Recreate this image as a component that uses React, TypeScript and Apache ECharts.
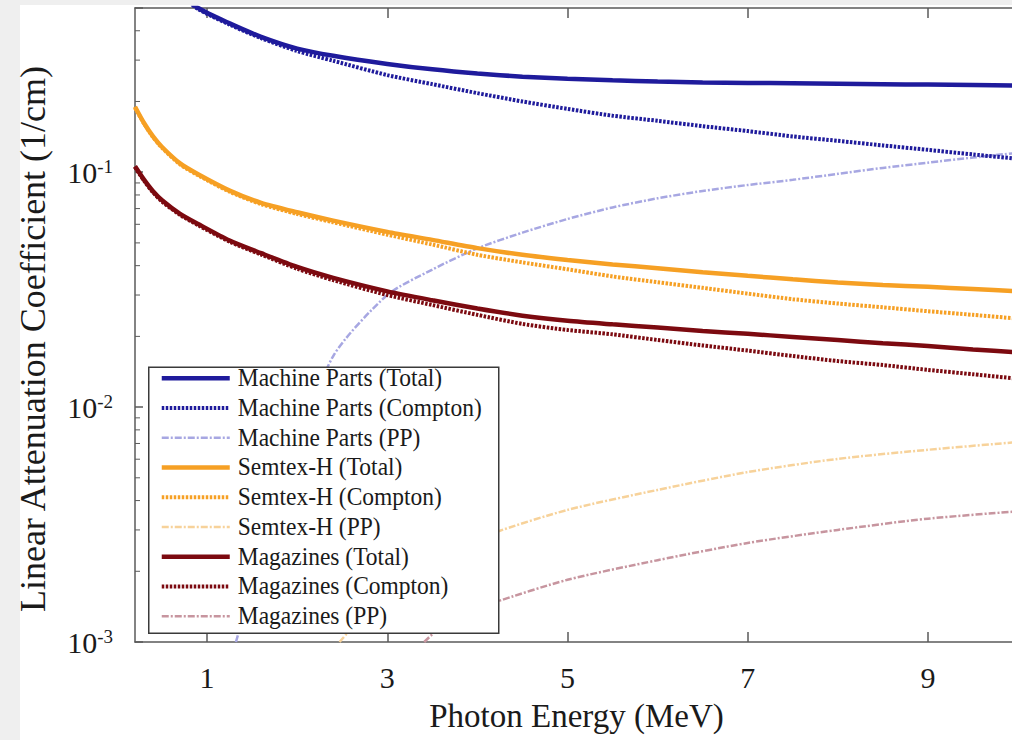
import React, { useEffect, useRef } from 'react';
import * as echarts from 'echarts';

// Photon energy grids (MeV)
const machineEnergy = [0.7, 0.9, 1.25, 1.6, 2, 2.4, 3, 3.5, 4, 4.5, 5, 5.5, 6, 6.5, 7, 7.5, 8, 8.5, 9, 9.5, 10];
const energy = [0.2, 0.3, 0.4, 0.5, 0.7, 0.9, 1.25, 1.6, 2, 2.4, 3, 3.5, 4, 4.5, 5, 5.5, 6, 6.5, 7, 7.5, 8, 8.5, 9, 9.5, 10];
const machinePPEnergy = [1.32, 1.6, 2, 2.4, 3, 3.5, 4, 4.5, 5, 5.5, 6, 6.5, 7, 7.5, 8, 8.5, 9, 9.5, 10];
const semtexPPEnergy = [2.47, 3, 3.5, 4.18, 5, 6, 7, 8, 9, 10];
const magazinesPPEnergy = [3.41, 3.7, 4.18, 5, 6, 7, 8, 9, 10];

// Linear attenuation coefficients (1/cm)
const machineTotal = [0.58, 0.5, 0.43, 0.377, 0.336, 0.313, 0.289, 0.274, 0.263, 0.255, 0.25, 0.246, 0.243, 0.241, 0.24, 0.239, 0.238, 0.237, 0.236, 0.235, 0.234];
const machineCompton = [0.57, 0.495, 0.425, 0.372, 0.328, 0.298, 0.259, 0.237, 0.217, 0.2, 0.186, 0.174, 0.1655, 0.157, 0.1496, 0.142, 0.136, 0.13, 0.1245, 0.119, 0.114];
const machinePP = [0.001, 0.0023, 0.0066, 0.0165, 0.03, 0.0385, 0.0474, 0.0553, 0.0632, 0.0708, 0.0774, 0.0832, 0.0882, 0.0928, 0.0984, 0.1043, 0.1098, 0.1154, 0.121];
const semtexTotal = [0.19, 0.162, 0.142, 0.128, 0.109, 0.098, 0.0835, 0.074, 0.0675, 0.0622, 0.0557, 0.0515, 0.0475, 0.0445, 0.0423, 0.0405, 0.039, 0.0375, 0.0362, 0.035, 0.0339, 0.0331, 0.0325, 0.0318, 0.0311];
const semtexCompton = [0.188, 0.161, 0.141, 0.127, 0.108, 0.097, 0.0826, 0.0731, 0.0664, 0.0612, 0.0542, 0.0492, 0.0445, 0.0413, 0.0386, 0.036, 0.034, 0.0322, 0.0304, 0.0288, 0.0276, 0.0266, 0.0256, 0.0247, 0.0238];
const semtexPP = [0.001, 0.00166, 0.00224, 0.00291, 0.00365, 0.00444, 0.00529, 0.00602, 0.00658, 0.0071];
const magazinesTotal = [0.106, 0.093, 0.083, 0.076, 0.0665, 0.0602, 0.0512, 0.0452, 0.0395, 0.0355, 0.0311, 0.0285, 0.0263, 0.0245, 0.0233, 0.0225, 0.0218, 0.0211, 0.0205, 0.0199, 0.0193, 0.0187, 0.0182, 0.0176, 0.0171];
const magazinesCompton = [0.105, 0.092, 0.082, 0.075, 0.0658, 0.0595, 0.0506, 0.0446, 0.0388, 0.0347, 0.03, 0.0272, 0.0247, 0.0226, 0.0213, 0.0204, 0.0193, 0.0183, 0.0174, 0.0165, 0.0157, 0.0151, 0.0144, 0.0138, 0.0132];
const magazinesPP = [0.001, 0.00125, 0.00147, 0.00184, 0.00223, 0.00264, 0.003, 0.00335, 0.0036];

// Axis ticks
const xTicks = [1, 3, 5, 7, 9];
const yMinorTicks = [0.002, 0.003, 0.004, 0.005, 0.006, 0.007, 0.008, 0.009, 0.02, 0.03, 0.04, 0.05, 0.06, 0.07, 0.08, 0.09, 0.2, 0.3, 0.4];

const names = [
  'Machine Parts (Total)', 'Machine Parts (Compton)', 'Machine Parts (PP)',
  'Semtex-H (Total)', 'Semtex-H (Compton)', 'Semtex-H (PP)',
  'Magazines (Total)', 'Magazines (Compton)', 'Magazines (PP)',
];

const BLUE = '#1f1b9c';
const ORANGE = '#f6a024';
const RED = '#7c0a10';
const BLUE_PP = '#a7a7e2';
const ORANGE_PP = '#f7d29a';
const RED_PP = '#c7959f';

const FONT = 'Liberation Serif, Times New Roman, serif';
const TXT = '#1a1a1a';

const pairs = (xs: number[], ys: number[]) => xs.map((x, i) => [x, ys[i]]);

export default function App() {
  const ref = useRef<HTMLDivElement>(null);
  useEffect(() => {
    if (!ref.current) return;
    const chart = echarts.init(ref.current, null, { renderer: 'svg' });
    const solid = (color: string) => ({ color, width: 4.5, type: 'solid' as any, dash: null as any });
    const dotted = (color: string) => ({ color, width: 4, type: [2.5, 1.5] as any, dash: [2.5, 1.5], cap: 'butt' as const });
    const dashdot = (color: string) => ({ color, width: 2.5, type: [7, 2, 2, 2] as any, dash: [7, 2, 2, 2], cap: 'butt' as const });
    const styles = [
      solid(BLUE), dotted(BLUE), dashdot(BLUE_PP),
      solid(ORANGE), dotted(ORANGE), dashdot(ORANGE_PP),
      solid(RED), dotted(RED), dashdot(RED_PP),
    ];
    const datas = [
      pairs(machineEnergy, machineTotal), pairs(machineEnergy, machineCompton), pairs(machinePPEnergy, machinePP),
      pairs(energy, semtexTotal), pairs(energy, semtexCompton), pairs(semtexPPEnergy, semtexPP),
      pairs(energy, magazinesTotal), pairs(energy, magazinesCompton), pairs(magazinesPPEnergy, magazinesPP),
    ];
    const lineSeries = names.map((name, i) => ({
      type: 'line',
      name,
      data: datas[i],
      symbol: 'none',
      smooth: 0.25,
      clip: true,
      lineStyle: { color: styles[i].color, width: styles[i].width, type: styles[i].type, cap: 'butt' },
      itemStyle: { color: styles[i].color },
      z: i % 3 === 2 ? 2 : 3,
    }));
    const fmt = (v: number) => {
      const l = Math.log10(v);
      const e = Math.round(l);
      if (Math.abs(l - e) > 1e-6) return '';
      return `{b|10}{s|${e}}`;
    };
    const axisLineStyle = { color: '#5a5a5a', width: 1.5 };

    // legend box drawn with graphic elements
    const LX = 148, LY = 364, LW = 350, LH = 266, ROW = 29.75, R0 = 10;
    const legendChildren: any[] = [
      { type: 'rect', shape: { x: 0, y: 0, width: LW, height: LH }, style: { fill: '#fff', stroke: '#3a3a3a', lineWidth: 1.5 }, z: 100 },
    ];
    names.forEach((n, i) => {
      const cy = R0 + i * ROW;
      legendChildren.push({
        type: 'line',
        shape: { x1: 13, y1: cy + 1, x2: 81, y2: cy + 1 },
        style: { stroke: styles[i].color, lineWidth: styles[i].width, lineDash: styles[i].dash, lineCap: 'butt' },
        z: 101,
      });
      legendChildren.push({
        type: 'text',
        x: 89,
        y: cy,
        scaleY: 1.1,
        style: { text: n, fill: TXT, font: `23.5px ${FONT}`, textVerticalAlign: 'middle', textAlign: 'left' },
        z: 101,
      });
    });

    chart.setOption({
      animation: false,
      backgroundColor: 'transparent',
      grid: { left: 135, top: 8, right: -6, bottom: 98, outerBoundsMode: 'none', containLabel: false },
      xAxis: [
        {
          type: 'value',
          min: 0.2,
          max: 10,
          position: 'bottom',
          name: 'Photon Energy (MeV)',
          nameLocation: 'middle',
          nameGap: 57,
          nameTextStyle: { fontFamily: FONT, fontSize: 33, color: TXT },
          axisLine: { show: true, lineStyle: axisLineStyle },
          axisTick: { show: true, inside: true, length: 10, customValues: xTicks, lineStyle: axisLineStyle },
          axisLabel: { customValues: xTicks, margin: 20, fontFamily: FONT, fontSize: 30, color: TXT },
          splitLine: { show: false },
        },
        {
          type: 'value',
          min: 0.2,
          max: 10,
          position: 'top',
          axisLine: { show: true, lineStyle: axisLineStyle },
          axisTick: { show: true, inside: true, length: 10, customValues: xTicks, lineStyle: axisLineStyle },
          axisLabel: { show: false },
          splitLine: { show: false },
        },
      ],
      yAxis: {
        type: 'log',
        logBase: 10,
        min: 0.001,
        max: 0.5,
        name: 'Linear Attenuation Coefficient (1/cm)',
        nameLocation: 'middle',
        nameGap: 84,
        nameTextStyle: { fontFamily: FONT, fontSize: 36, color: TXT, padding: [0, 28, 0, 0] },
        axisLine: { show: true, lineStyle: axisLineStyle },
        axisTick: { show: true, inside: true, length: 8, lineStyle: axisLineStyle },
        axisLabel: {
          formatter: fmt,
          margin: 22,
          rich: {
            b: { fontFamily: FONT, fontSize: 30, color: TXT, lineHeight: 30, verticalAlign: 'bottom' },
            s: { fontFamily: FONT, fontSize: 19, color: TXT, lineHeight: 19, verticalAlign: 'top' },
          },
        },
        splitLine: { show: false },
        minorTick: { show: false },
      },
      graphic: [{ type: 'group', left: LX, top: LY, z: 100, children: legendChildren }],
      series: [
        ...lineSeries,
        {
          type: 'custom',
          name: 'minorTicks',
          silent: true,
          clip: false,
          data: yMinorTicks.map((v) => [0.2, v]),
          renderItem: (params: any, api: any) => {
            const p = api.coord([api.value(0), api.value(1)]);
            return {
              type: 'line',
              shape: { x1: p[0], y1: p[1], x2: p[0] + 5, y2: p[1] },
              style: { stroke: '#5a5a5a', lineWidth: 1 },
            };
          },
        },
      ],
    });
    return () => chart.dispose();
  }, []);
  return (
    <div style={{ position: 'fixed', left: 0, top: 0, width: 1012, height: 740, background: '#efefef', overflow: 'hidden' }}>
      <div style={{ position: 'absolute', left: 20, top: 5, right: 0, bottom: 0, background: '#fff' }} />
      <div ref={ref} style={{ position: 'absolute', left: 0, top: 0, width: 1012, height: 740 }} />
    </div>
  );
}
